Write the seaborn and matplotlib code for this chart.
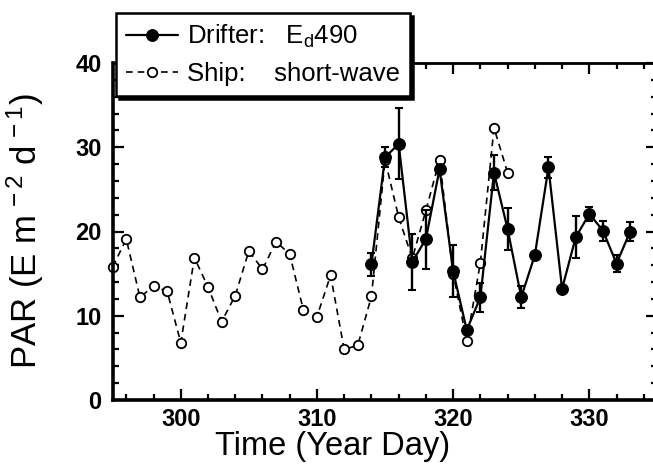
import numpy as np
import pandas as pd
import matplotlib
matplotlib.use("Agg")
import matplotlib.pyplot as plt
from matplotlib.ticker import MultipleLocator
import seaborn as sns

# ---- data ----
ship_days = [295, 296, 297, 298, 299, 300, 301, 302, 303, 304, 305, 306, 307, 308, 309,
             310, 311, 312, 313, 314, 315, 316, 317, 318, 319, 320, 321, 322, 323, 324]
ship_par = [15.8, 19.1, 12.2, 13.5, 12.9, 6.8, 16.9, 13.4, 9.3, 12.4, 17.7, 15.5, 18.8, 17.3, 10.7,
            9.9, 14.8, 6.0, 6.5, 12.3, 28.5, 21.7, 16.8, 22.5, 28.5, 15.0, 7.0, 16.3, 32.3, 27.0]

drifter_days = [314, 315, 316, 317, 318, 319, 320, 321, 322, 323, 324, 325, 326, 327, 328,
                329, 330, 331, 332, 333]
drifter_par = [16.1, 28.8, 30.4, 16.4, 19.1, 27.4, 15.3, 8.3, 12.2, 27.0, 20.3, 12.2, 17.2, 27.6, 13.2,
               19.3, 22.1, 20.1, 16.2, 20.0]
drifter_err = [1.4, 1.2, 4.2, 3.3, 3.5, 0.5, 3.1, 0.5, 1.7, 2.1, 2.5, 1.3, 0.0, 1.2, 0.0,
               2.5, 0.8, 1.2, 1.0, 1.1]

x_ticks = [300, 310, 320, 330]
y_ticks = [0, 10, 20, 30, 40]

ship_label = "Ship:    short-wave"
drifter_label = "Drifter:   E$_\\mathregular{d}$490"

# ---- style ----
sns.set_style("ticks")
plt.rcParams["font.family"] = ["Liberation Sans", "DejaVu Sans"]
plt.rcParams["mathtext.fontset"] = "custom"
plt.rcParams["mathtext.rm"] = "Liberation Sans"
plt.rcParams["mathtext.it"] = "Liberation Sans"
for k in ["text.color", "axes.labelcolor", "xtick.color", "ytick.color", "axes.edgecolor"]:
    plt.rcParams[k] = "black"

W, H = 653, 470
fig = plt.figure(figsize=(W / 100, H / 100), dpi=100)
left_px, right_px, top_px, bottom_px = 112.7, 657.4, 63, 400
ax_w = right_px - left_px
ax_h = bottom_px - top_px
ax = fig.add_axes([left_px / W, 1 - bottom_px / H, ax_w / W, ax_h / H])

ship_df = pd.DataFrame({"day": ship_days, "par": ship_par})
drift_df = pd.DataFrame({"day": drifter_days, "par": drifter_par, "err": drifter_err})

sns.lineplot(data=ship_df, x="day", y="par", ax=ax, color="black", linestyle=(0, (4, 3)),
             linewidth=1.2, marker="o", markersize=6.8, markerfacecolor="white",
             markeredgecolor="black", markeredgewidth=1.3, label=ship_label, zorder=2,
             clip_on=False)

ax.errorbar(drift_df["day"], drift_df["par"], yerr=drift_df["err"], fmt="none",
            ecolor="black", elinewidth=1.7, capsize=3, capthick=1.5, zorder=3)

sns.lineplot(data=drift_df, x="day", y="par", ax=ax, color="black", linestyle="-",
             linewidth=1.6, marker="o", markersize=8.5, markerfacecolor="black",
             markeredgecolor="black", label=drifter_label, zorder=4)

ax.set_xlim(295, 335)
ax.set_ylim(0, 40)
ax.set_xticks(x_ticks)
ax.set_yticks(y_ticks)
ax.xaxis.set_minor_locator(MultipleLocator(2))
ax.yaxis.set_minor_locator(MultipleLocator(2))
ax.tick_params(which="both", direction="in", top=True, right=True, width=1.6, colors="black")
ax.tick_params(which="major", length=8, labelsize=17)
ax.tick_params(which="minor", length=4.5)
ax.tick_params(axis="x", which="major", pad=6)
ax.tick_params(axis="y", which="major", pad=8)
for lab in ax.get_xticklabels() + ax.get_yticklabels():
    lab.set_fontweight("bold")
for name, s in ax.spines.items():
    s.set_linewidth(2.6 if name in ("left", "bottom") else 2.0)
    s.set_color("black")

ax.set_xlabel("Time (Year Day)", fontsize=23.5)
ax.set_ylabel("PAR (E m$^{\\mathregular{\\,-2}}$ d$^{\\mathregular{\\,-1}}$)", fontsize=25)
ax.xaxis.set_label_coords((333 - left_px) / ax_w, -(431 - bottom_px) / ax_h)
ax.yaxis.set_label_coords(-(left_px - 46) / ax_w, 0.5)

handles, labels = ax.get_legend_handles_labels()
order = [labels.index(drifter_label), labels.index(ship_label)]
leg = ax.legend([handles[i] for i in order], [labels[i] for i in order],
                loc="upper left", bbox_to_anchor=(116 / W, 1 - 13 / H),
                bbox_transform=fig.transFigure, borderaxespad=0, fontsize=18.5,
                frameon=True, fancybox=False, framealpha=1, edgecolor="black",
                handlelength=2.0, handletextpad=0.35, borderpad=0.4, labelspacing=0.45,
                shadow={"color": "black", "alpha": 1})
leg.get_frame().set_linewidth(1.8)
leg.set_zorder(10)

fig.savefig("out.png", dpi=100)
